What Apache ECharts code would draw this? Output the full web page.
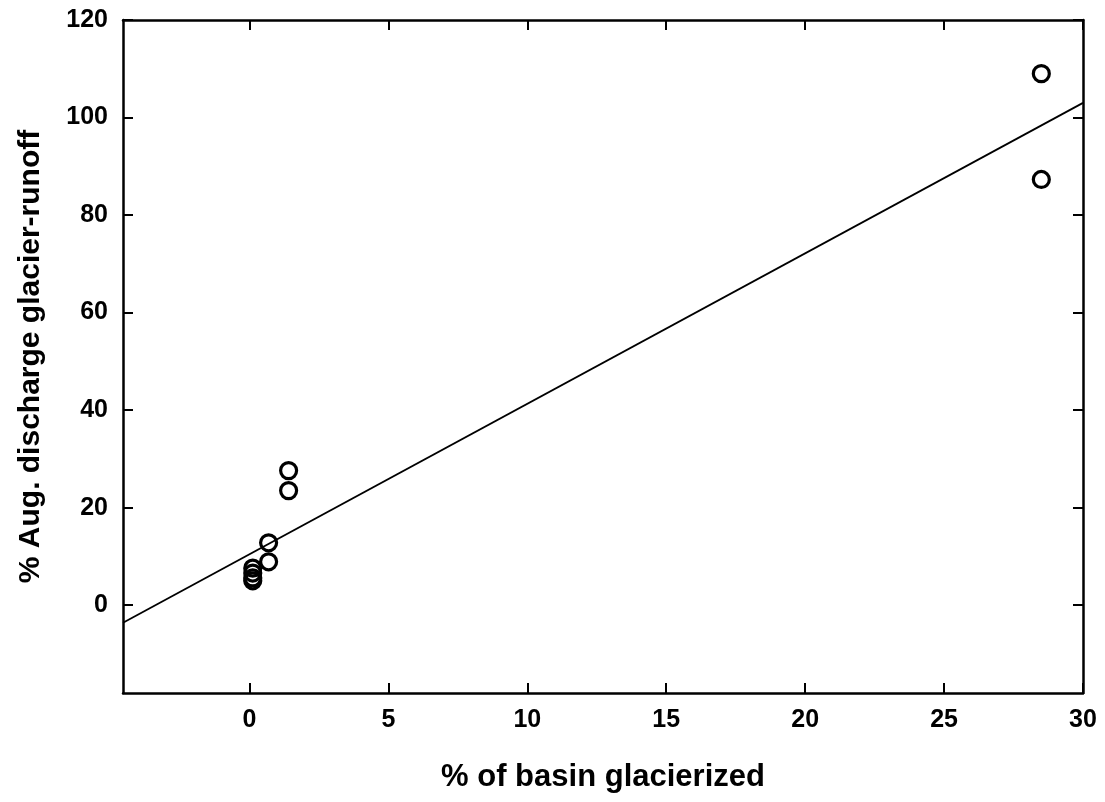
<!DOCTYPE html>
<html>
<head>
<meta charset="utf-8">
<script src="https://cdn.jsdelivr.net/npm/echarts@6/dist/echarts.min.js"></script>
<style>html,body{margin:0;padding:0;background:#fff;}#c{width:1105px;height:802px;}</style>
</head>
<body>
<div id="c"></div>
<script>
// Observed points: [% of basin glacierized, % Aug. discharge glacier-runoff]
var pointsX = [1.41, 1.41, 0.69, 0.69, 0.12, 0.12, 0.12, 0.12, 28.5, 28.5];
var pointsY = [27.6, 23.5, 12.8, 8.9, 7.6, 6.6, 5.6, 5.0, 109.0, 87.3];
// Regression line endpoints
var lineX = [-4.55, 30];
var lineY = [-3.6, 103.0];
var xTicks = [0, 5, 10, 15, 20, 25, 30];
var yTicks = [0, 20, 40, 60, 80, 100, 120];

var font = 'Liberation Sans, Arial, sans-serif';
var scatterData = pointsX.map(function (x, i) { return [x, pointsY[i]]; });
var lineData = lineX.map(function (x, i) { return [x, lineY[i]]; });

var axLine = { show: true, onZero: false, lineStyle: { color: '#000', width: 2.5 } };
function tick(vals) { return { show: true, inside: true, length: 10, lineStyle: { color: '#000', width: 2 }, customValues: vals }; }

var chart = echarts.init(document.getElementById('c'));
chart.setOption({
  animation: false,
  backgroundColor: '#fff',
  grid: { left: 123, right: 22, top: 20, bottom: 109, containLabel: false },
  xAxis: [{
    type: 'value', min: -4.55, max: 30, position: 'bottom',
    axisLine: axLine, axisTick: tick(xTicks), splitLine: { show: false },
    axisLabel: { customValues: xTicks, color: '#000', fontSize: 25, fontWeight: 'bold', fontFamily: font, margin: 15 },
    name: '% of basin glacierized', nameLocation: 'middle', nameGap: 69,
    nameTextStyle: { color: '#000', fontSize: 31, fontWeight: 'bold', fontFamily: font }
  }, {
    type: 'value', min: -4.55, max: 30, position: 'top',
    axisLine: axLine, axisTick: tick(xTicks), splitLine: { show: false },
    axisLabel: { show: false }
  }],
  yAxis: [{
    type: 'value', min: -18, max: 120, position: 'left',
    axisLine: axLine, axisTick: tick(yTicks), splitLine: { show: false },
    axisLabel: { customValues: yTicks, color: '#000', fontSize: 25, fontWeight: 'bold', fontFamily: font, margin: 15 },
    name: '% Aug. discharge glacier-runoff', nameLocation: 'middle', nameGap: 77,
    nameTextStyle: { color: '#000', fontSize: 30, fontWeight: 'bold', fontFamily: font }
  }, {
    type: 'value', min: -18, max: 120, position: 'right',
    axisLine: axLine, axisTick: tick(yTicks), splitLine: { show: false },
    axisLabel: { show: false }
  }],
  series: [{
    type: 'line', data: lineData, symbol: 'none', silent: true,
    lineStyle: { color: '#000', width: 1.8 }
  }, {
    type: 'scatter', data: scatterData, symbol: 'circle', symbolSize: 16,
    itemStyle: { color: 'rgba(255,255,255,0)', borderColor: '#000', borderWidth: 3.2, opacity: 1 }
  }]
});
</script>
</body>
</html>
